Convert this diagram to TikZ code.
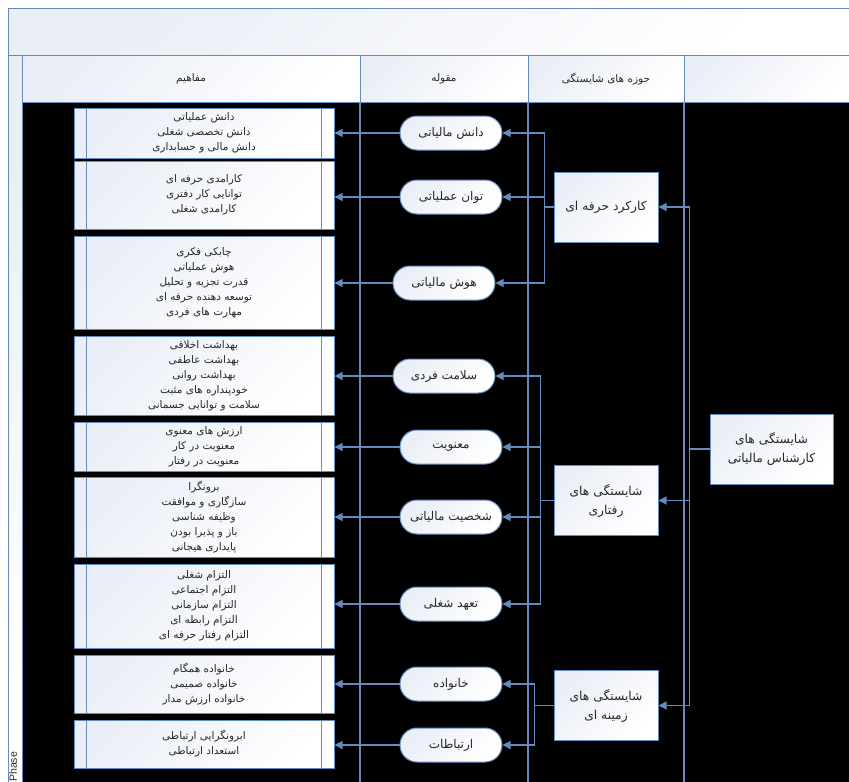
\documentclass[tikz,border=0pt]{standalone}
\usepackage{fontspec}
\setmainfont{DejaVu Sans}
\newfontfamily\fafont[Script=Arabic]{DejaVu Sans}
\newfontfamily\latfont{Liberation Sans}
\TeXXeTstate=1
\usetikzlibrary{arrows.meta,calc}
\newcommand\fa[1]{{\fafont\beginR #1\endR}}
\definecolor{lineblue}{RGB}{100,139,190}
\definecolor{fillA}{RGB}{234,238,246}
\definecolor{txt}{RGB}{40,40,40}
\tikzset{
  shadedbox/.style={draw=lineblue, line width=1pt, top color=fillA, bottom color=white, shading angle=45},
  concept/.style={shadedbox, minimum width=260pt, inner sep=0pt, align=center, text=txt,
     font=\fontsize{10.5}{15}\selectfont},
  midnode/.style={shadedbox, rounded corners=17pt, minimum width=102pt, minimum height=34pt, inner sep=0pt,
     text=txt, font=\fontsize{12}{14}\selectfont},
  catbox/.style={shadedbox, minimum width=104pt, minimum height=70pt, inner sep=0pt, align=center,
     text=txt, font=\fontsize{12.3}{19}\selectfont},
  hdr/.style={text=txt, font=\fontsize{10.5}{12}\selectfont},
  conn/.style={draw=lineblue, line width=1.1pt},
  arr/.style={conn, -{Triangle[length=8pt,width=8pt]}},
}
\begin{document}
\begin{tikzpicture}[x=1pt,y=-1pt]
\useasboundingbox (0,0) rectangle (849,782);
\fill[white] (0,0) rectangle (849,782);
% backgrounds
\fill[black] (22,102) rectangle (849,782);
\path[shadedbox] (8,8) rectangle (852,55);
\path[shadedbox] (8,55) rectangle (22,785);
\path[shadedbox] (22,55) rectangle (360,102);
\path[shadedbox] (360,55) rectangle (528,102);
\path[shadedbox] (528,55) rectangle (684,102);
\path[shadedbox] (684,55) rectangle (852,102);
\node[hdr] (h1) at (191,79) {\fa{مفاهیم}};
\node[hdr] (h2) at (444,79) {\fa{مقوله}};
\node[hdr] (h3) at (606,79) {\fa{حوزه های شایستگی}};
\draw[conn] (360,102) -- (360,785);
\draw[conn] (528,102) -- (528,785);
\draw[conn] (684,102) -- (684,785);
\node[rotate=90, anchor=north west, inner sep=1pt, font=\latfont\fontsize{10.5}{12}\selectfont, text=txt] (ph) at (8,783) {Phase};

% concept boxes
\node[concept, minimum height=50pt] (c1) at (204,133) {\fa{دانش عملیاتی}\\\fa{دانش تخصصی شغلی}\\\fa{دانش مالی و حسابداری}};
\node[concept, minimum height=68pt] (c2) at (204,195) {\fa{کارامدی حرفه ای}\\\fa{توانایی کار دفتری}\\\fa{کارامدی شغلی}};
\node[concept, minimum height=93pt] (c3) at (204,282.5) {\fa{چابکی فکری}\\\fa{هوش عملیاتی}\\\fa{قدرت تجزیه و تحلیل}\\\fa{توسعه دهنده حرفه ای}\\\fa{مهارت های فردی}};
\node[concept, minimum height=79pt] (c4) at (204,375.5) {\fa{بهداشت اخلاقی}\\\fa{بهداشت عاطفی}\\\fa{بهداشت روانی}\\\fa{خودپنداره های مثبت}\\\fa{سلامت و توانایی جسمانی}};
\node[concept, minimum height=49pt] (c5) at (204,446.5) {\fa{ارزش های معنوی}\\\fa{معنویت در کار}\\\fa{معنویت در رفتار}};
\node[concept, minimum height=80pt] (c6) at (204,517) {\fa{برونگرا}\\\fa{سازگاری و موافقت}\\\fa{وظیفه شناسی}\\\fa{باز و پذیرا بودن}\\\fa{پایداری هیجانی}};
\node[concept, minimum height=84pt] (c7) at (204,606) {\fa{التزام شغلی}\\\fa{التزام اجتماعی}\\\fa{التزام سازمانی}\\\fa{التزام رابطه ای}\\\fa{التزام رفتار حرفه ای}};
\node[concept, minimum height=58pt] (c8) at (204,684) {\fa{خانواده همگام}\\\fa{خانواده صمیمی}\\\fa{خانواده ارزش مدار}};
\node[concept, minimum height=48pt] (c9) at (204,744) {\fa{ابرونگرایی ارتباطی}\\\fa{استعداد ارتباطی}};
\foreach \c in {c1,c2,c3,c4,c5,c6,c7,c8,c9}{
  \draw[conn, line width=0.9pt] ([xshift=13pt]\c.north west) -- ([xshift=13pt]\c.south west);
  \draw[conn, line width=0.9pt] ([xshift=-13pt]\c.north east) -- ([xshift=-13pt]\c.south east);
}

% middle nodes
\node[midnode] (m1) at (451,133) {\fa{دانش مالیاتی}};
\node[midnode] (m2) at (451,197) {\fa{توان عملیاتی}};
\node[midnode] (m3) at (444,283) {\fa{هوش مالیاتی}};
\node[midnode] (m4) at (444,376) {\fa{سلامت فردی}};
\node[midnode] (m5) at (451,447) {\fa{معنویت}};
\node[midnode] (m6) at (451,517) {\fa{شخصیت مالیاتی}};
\node[midnode] (m7) at (451,604) {\fa{تعهد شغلی}};
\node[midnode] (m8) at (451,684) {\fa{خانواده}};
\node[midnode] (m9) at (451,745) {\fa{ارتباطات}};

\foreach \i in {1,...,9}{
  \draw[arr] (m\i.west) -- (m\i.west -| c\i.east);
}

% category boxes
\node[catbox] (k1) at (606,207) {\fa{کارکرد حرفه ای}};
\node[catbox] (k2) at (606,500.5) {\fa{شایستگی های}\\\fa{رفتاری}};
\node[catbox] (k3) at (606,705.5) {\fa{شایستگی های}\\\fa{زمینه ای}};
\node[catbox, minimum width=123pt] (top) at (771.5,449) {\fa{شایستگی های}\\\fa{کارشناس مالیاتی}};

\draw[arr] (k1.west) -- ++(-9,0) |- (m1.east);
\draw[arr] (k1.west) -- ++(-9,0) |- (m2.east);
\draw[arr] (k1.west) -- ++(-9,0) |- (m3.east);
\draw[arr] (k2.west) -- ++(-13,0) |- (m4.east);
\draw[arr] (k2.west) -- ++(-13,0) |- (m5.east);
\draw[arr] (k2.west) -- ++(-13,0) |- (m6.east);
\draw[arr] (k2.west) -- ++(-13,0) |- (m7.east);
\draw[arr] (k3.west) -- ++(-19,0) |- (m8.east);
\draw[arr] (k3.west) -- ++(-19,0) |- (m9.east);
\draw[arr] (top.west) -- ++(-20,0) |- (k1.east);
\draw[arr] (top.west) -- ++(-20,0) |- (k2.east);
\draw[arr] (top.west) -- ++(-20,0) |- (k3.east);
\end{tikzpicture}
\end{document}
